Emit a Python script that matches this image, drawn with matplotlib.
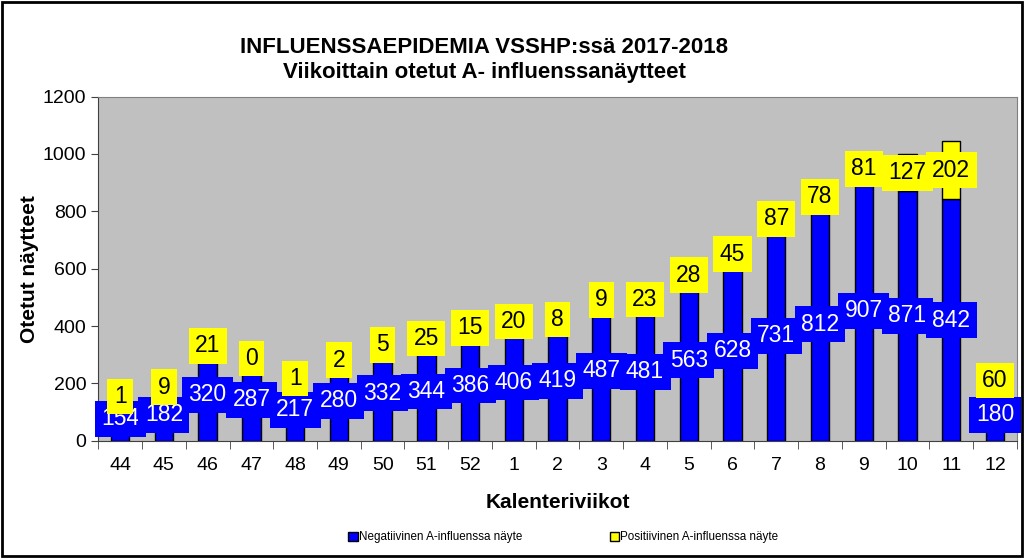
import matplotlib.pyplot as plt
import numpy as np
from matplotlib.patches import Rectangle

plt.rcParams['font.family'] = ['Liberation Sans', 'DejaVu Sans']

weeks = ['44', '45', '46', '47', '48', '49', '50', '51', '52', '1', '2',
         '3', '4', '5', '6', '7', '8', '9', '10', '11', '12']
negatiivinen = [154, 182, 320, 287, 217, 280, 332, 344, 386, 406, 419,
                487, 481, 563, 628, 731, 812, 907, 871, 842, 180]
positiivinen = [1, 9, 21, 0, 1, 2, 5, 25, 15, 20, 8,
                9, 23, 28, 45, 87, 78, 81, 127, 202, 60]

x = np.arange(len(weeks))
neg = np.array(negatiivinen)
pos = np.array(positiivinen)

fig = plt.figure(figsize=(10.24, 5.58), dpi=100)
ax = fig.add_axes([0.096, 0.21, 0.897, 0.617])
ax.set_facecolor('#C0C0C0')

w = 0.42
ax.bar(x, neg, w, color='#0000FF', edgecolor='black', linewidth=1, zorder=2,
       label='Negatiivinen A-influenssa näyte')
ax.bar(x, pos, w, bottom=neg, color='#FFFF00', edgecolor='black', linewidth=1,
       zorder=2, label='Positiivinen A-influenssa näyte')

# data labels in boxes
for i in range(len(weeks)):
    ax.text(x[i], neg[i] / 2, str(neg[i]), ha='center', va='center',
            fontsize=16.5, color='white', zorder=3,
            bbox=dict(boxstyle='square,pad=0.28', fc='#0000FF', ec='none'))
    ax.text(x[i], neg[i] + pos[i] / 2, str(pos[i]), ha='center', va='center',
            fontsize=16.5, color='black', zorder=4,
            bbox=dict(boxstyle='square,pad=0.28', fc='#FFFF00', ec='none'))

ax.set_xlim(-0.5, len(weeks) - 0.5)
ax.set_ylim(0, 1200)
ax.set_yticks(range(0, 1201, 200))
ax.set_xticks(x)
ax.set_xticklabels(weeks)
ax.set_xticks(np.arange(-0.5, len(weeks), 1), minor=True)
ax.tick_params(axis='x', which='major', length=0, labelsize=14, pad=12)
ax.tick_params(axis='x', which='minor', length=6, direction='out', color='#404040')
ax.tick_params(axis='y', labelsize=14, length=5, direction='out', color='#404040')

for s in ['top', 'right']:
    ax.spines[s].set_color('#808080')
for s in ['left', 'bottom']:
    ax.spines[s].set_color('#404040')

ax.set_ylabel('Otetut näytteet', fontsize=15, fontweight='bold', labelpad=3)
ax.set_xlabel('Kalenteriviikot', fontsize=15, fontweight='bold', labelpad=13)

fig.text(0.473, 0.893, 'INFLUENSSAEPIDEMIA VSSHP:ssä 2017-2018\nViikoittain otetut A- influenssanäytteet',
         ha='center', va='center', fontsize=16, fontweight='bold', linespacing=1.25)

leg = fig.legend(loc='center', bbox_to_anchor=(0.55, 0.037), ncol=2, frameon=False,
                 fontsize=8.4, handlelength=0.8, handleheight=0.8, handletextpad=0.1,
                 columnspacing=7.5)

# border around the figure
fig.patches.append(Rectangle((0.002, 0.003), 0.996, 0.994, transform=fig.transFigure,
                             fill=False, edgecolor='black', linewidth=2))

fig.savefig('out.png', dpi=100)
